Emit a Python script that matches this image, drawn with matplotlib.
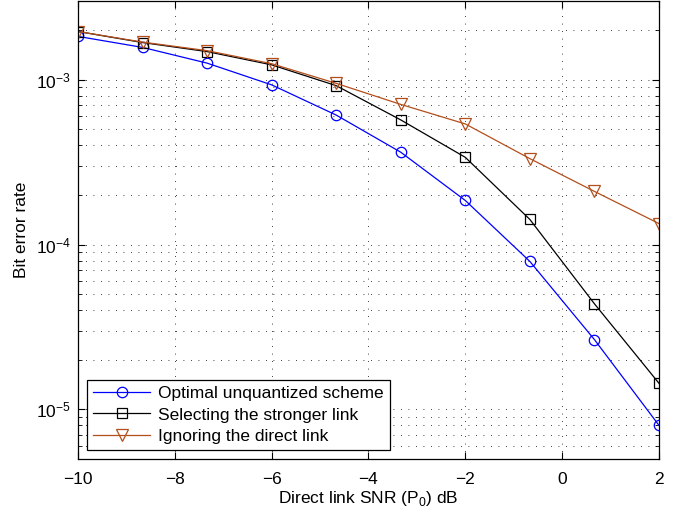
import matplotlib
matplotlib.use('Agg')
import matplotlib.pyplot as plt
from matplotlib.ticker import LogLocator, NullFormatter, FixedLocator

# Data
snr_db = [-10, -8.667, -7.333, -6, -4.667, -3.333, -2, -0.667, 0.667, 2]
ber_optimal = [1.83e-3, 1.57e-3, 1.26e-3, 9.3e-4, 6.1e-4, 3.63e-4, 1.85e-4, 7.9e-5, 2.65e-5, 8.0e-6]
ber_stronger = [1.96e-3, 1.68e-3, 1.48e-3, 1.23e-3, 9.2e-4, 5.7e-4, 3.38e-4, 1.42e-4, 4.37e-5, 1.44e-5]
ber_ignoring = [1.96e-3, 1.69e-3, 1.50e-3, 1.25e-3, 9.5e-4, 7.08e-4, 5.39e-4, 3.32e-4, 2.10e-4, 1.34e-4]
x_ticks = [-10, -8, -6, -4, -2, 0, 2]

plt.rcParams['font.family'] = ['Liberation Sans', 'DejaVu Sans']
plt.rcParams['font.size'] = 12.5
plt.rcParams['mathtext.fontset'] = 'custom'
plt.rcParams['mathtext.rm'] = 'Liberation Sans'

fig = plt.figure(figsize=(6.86, 5.14), dpi=100)
ax = fig.add_axes([0.1137, 0.107, 0.8469, 0.891])

brown = '#b34f1c'
ax.plot(snr_db, ber_optimal, '-o', color='blue', lw=0.9, ms=7.5, mfc='none', mew=0.9,
        label='Optimal unquantized scheme')
ax.plot(snr_db, ber_stronger, '-s', color='black', lw=0.9, ms=6.5, mfc='none', mew=0.9,
        label='Selecting the stronger link')
ax.plot(snr_db, ber_ignoring, '-v', color=brown, lw=0.9, ms=8.5, mfc='none', mew=0.9,
        label='Ignoring the direct link')

ax.set_yscale('log')
ax.set_xlim(-10, 2)
ax.set_ylim(5e-6, 3e-3)
ax.xaxis.set_major_locator(FixedLocator(x_ticks))
ax.set_xticklabels(['\u2212' + str(-t) if t < 0 else str(t) for t in x_ticks])
ax.yaxis.set_major_locator(LogLocator(base=10, numticks=10))
ax.yaxis.set_minor_locator(LogLocator(base=10, subs=range(2, 10), numticks=10))
ax.yaxis.set_minor_formatter(NullFormatter())

ax.grid(True, which='major', ls=(0, (1, 8)), color='black', lw=0.6)
ax.grid(True, which='minor', axis='y', ls=(0, (1, 8)), color='black', lw=0.6)
ax.tick_params(which='both', direction='in', top=True, right=True)
ax.tick_params(which='major', length=5)
ax.tick_params(axis='x', which='major', pad=9)
ax.tick_params(axis='y', which='major', pad=5)
ax.tick_params(which='minor', length=3)
for s in ax.spines.values():
    s.set_linewidth(0.9)

ax.set_xlabel('Direct link SNR (P$_0$) dB', labelpad=2)
ax.set_ylabel('Bit error rate', labelpad=5)

leg = ax.legend(loc='lower left', bbox_to_anchor=(0.0155, 0.02), fancybox=False,
                framealpha=1, edgecolor='black', borderpad=0.35, labelspacing=0.35,
                handlelength=3.3, handletextpad=0.45, borderaxespad=0)
leg.get_frame().set_linewidth(0.9)

fig.savefig('out.png', dpi=100)
